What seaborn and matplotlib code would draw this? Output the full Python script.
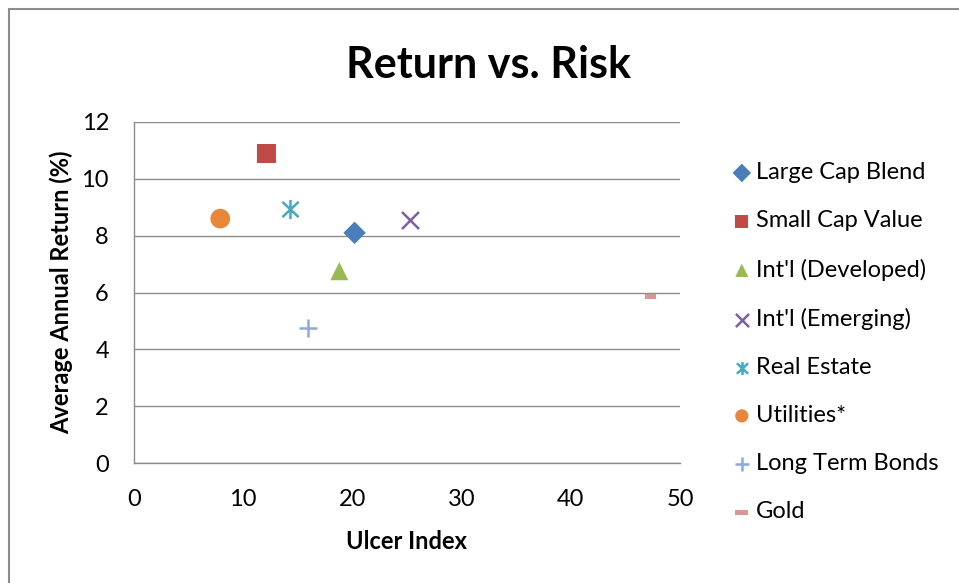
import matplotlib
matplotlib.use('Agg')
import matplotlib.pyplot as plt
import seaborn as sns
from matplotlib.patches import Rectangle
from matplotlib.path import Path

# datos
names = ['Large Cap Blend', 'Small Cap Value', "Int'l (Developed)", "Int'l (Emerging)",
         'Real Estate', 'Utilities*', 'Long Term Bonds', 'Gold']
ulcer = [20.2, 12.1, 18.8, 25.3, 14.3, 7.9, 15.9, 47.3]
ret = [8.1, 10.9, 6.75, 8.55, 8.95, 8.6, 4.75, 5.85]
colors = ['#4A7EBB', '#BE4B48', '#98B954', '#7D60A0', '#46AAC5', '#E8863A', '#8EA9DB', '#D99795']

# marcador estrella estilo Excel (vertical + X)
star = Path([(0, -1), (0, 1), (-0.85, -0.8), (0.85, 0.8), (-0.85, 0.8), (0.85, -0.8)],
            [Path.MOVETO, Path.LINETO] * 3)
gold_bar = [(-1, -0.4), (1, -0.4), (1, 0.4), (-1, 0.4), (-1, -0.4)]
markers = ['D', 's', '^', 'x', star, 'o', '+', gold_bar]
sizes = [130, 190, 170, 150, 190, 200, 170, 70]
line_art = [False, False, False, True, True, False, True, False]

sns.set_style('white')
plt.rcParams['font.family'] = ['Lato', 'DejaVu Sans']
plt.rcParams['text.color'] = 'black'
plt.rcParams['axes.labelcolor'] = 'black'

fig = plt.figure(figsize=(9.59, 5.83), dpi=100)
ax = fig.add_axes([134 / 959, 1 - 463 / 583, (680 - 134) / 959, (463 - 122) / 583])

for i in range(len(names)):
    sns.scatterplot(x=[ulcer[i]], y=[ret[i]], marker=markers[i], color=colors[i], s=sizes[i],
                    edgecolor=colors[i] if line_art[i] else 'none',
                    linewidth=1.8 if line_art[i] else 0, label=names[i], ax=ax, zorder=3)

ax.set_xlim(0, 50)
ax.set_ylim(0, 12)
ax.set_xticks(range(0, 51, 10))
ax.set_yticks(range(0, 13, 2))
ax.yaxis.grid(True, color='#8C8C8C', linewidth=1)
ax.xaxis.grid(False)
for s in ['top', 'right']:
    ax.spines[s].set_visible(False)
for s in ['left', 'bottom']:
    ax.spines[s].set_color('#8C8C8C')
    ax.spines[s].set_linewidth(1)
ax.tick_params(axis='both', length=0, labelsize=17, colors='black')
ax.tick_params(axis='y', pad=18)
ax.tick_params(axis='x', pad=19)

ax.set_xlabel('Ulcer Index', fontsize=17, fontweight='bold', labelpad=14, color='black')
ax.set_ylabel('Average Annual Return (%)', fontsize=17, fontweight='bold', labelpad=6, color='black')
fig.text(0.509, 0.888, 'Return vs. Risk', ha='center', va='center', fontsize=31,
         fontweight='bold', color='black')

leg = ax.legend(loc='upper left', bbox_to_anchor=(1.07, 0.91), frameon=False, fontsize=17,
                labelspacing=1.15, handletextpad=0.0, handlelength=1.2, borderaxespad=0)
for h in leg.legend_handles:
    h.set_sizes([90])

# borde exterior del grafico
fig.patches.append(Rectangle((9 / 959, -0.05), 1.1, 1 - 9 / 583 + 0.05, transform=fig.transFigure,
                             fill=False, edgecolor='#8C8C8C', linewidth=1.5))

fig.savefig('out.png', dpi=100)
